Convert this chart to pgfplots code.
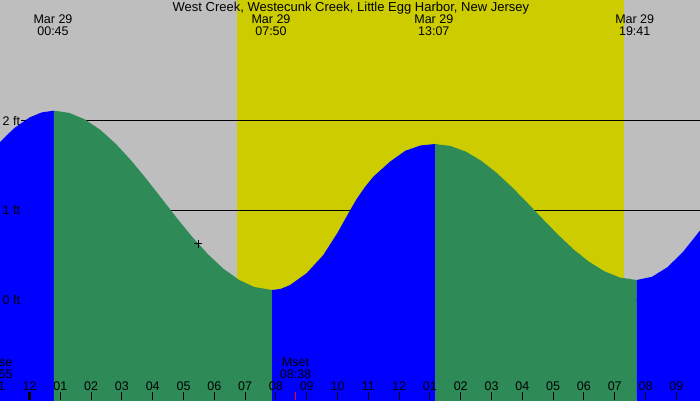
\documentclass[border=0pt]{standalone}
\usepackage{fontspec}
\setmainfont{Liberation Sans}
\usepackage{pgfplots}
\pgfplotsset{compat=1.18}
\definecolor{bggray}{RGB}{190,190,190}
\definecolor{dayyellow}{RGB}{204,204,0}
\definecolor{risecol}{RGB}{0,0,255}
\definecolor{fallcol}{RGB}{46,139,87}
\newcommand\lbl{\fontsize{12.5}{14}\selectfont}
\begin{document}
\begin{tikzpicture}[x=1pt,y=1pt]
\begin{axis}[
  at={(0,0)}, anchor=south west,
  scale only axis, width=700pt, height=400pt,
  xmin=-0.958, xmax=21.769,
  ymin=-1.116, ymax=3.348,
  axis on top,
  axis line style={draw=none},
  axis background/.style={fill=bggray},
  ytick=\empty,
  xtick={1,2,3,4,5,6,7,8,9,10,11,12,13,14,15,16,17,18,19,20,21},
  xticklabels={01,02,03,04,05,06,07,08,09,10,11,12,01,02,03,04,05,06,07,08,09},
  extra x ticks={0},
  extra x tick labels={12},
  extra x tick style={major tick style={black, line width=3pt}},
  xtick pos=lower, tick align=inside,
  major tick length=8pt,
  major tick style={black, line width=1pt},
  xticklabel style={anchor=base, yshift=10pt, inner sep=0pt, font=\lbl, text=black},
  clip=true,
]
% daylight band
\addplot[draw=none, fill=dayyellow] coordinates {(6.737,-1.2) (19.302,-1.2) (19.302,3.4) (6.737,3.4)} -- cycle;
% reference lines
\addplot[black, line width=1pt] coordinates {(-0.276,2) (21.8,2)};
\addplot[black, line width=1pt] coordinates {(-0.276,1) (21.8,1)};
\addplot[black, line width=1pt] coordinates {(-0.276,0) (21.8,0)};
% rising (blue) and falling (green) tide
\addplot[draw=none, fill=risecol] coordinates {
 (-0.958,-1.2) (-0.958,1.763) (-0.5,1.917) (0,2.037) (0.4,2.094) (0.795,2.113) (0.795,-1.2)} -- cycle;
\addplot[draw=none, fill=fallcol] coordinates {
 (0.795,-1.2) (0.795,2.113) (1.295,2.088) (1.795,2.016) (2.295,1.900) (2.795,1.745)
 (3.295,1.559) (3.795,1.351) (4.295,1.131) (4.795,0.910) (5.295,0.699) (5.795,0.510)
 (6.295,0.349) (6.795,0.226) (7.295,0.145) (7.873,0.112) (7.873,-1.2)} -- cycle;
\addplot[draw=none, fill=risecol] coordinates {
 (7.873,-1.2) (7.873,0.112) (8.15,0.123) (8.458,0.167) (9.0,0.300) (9.539,0.502)
 (10.0,0.750) (10.406,1.000) (10.623,1.128) (10.9,1.265) (11.162,1.376) (11.705,1.544)
 (12.2,1.665) (12.7,1.725) (13.166,1.741) (13.166,-1.2)} -- cycle;
\addplot[draw=none, fill=fallcol] coordinates {
 (13.166,-1.2) (13.166,1.741) (13.666,1.719) (14.166,1.656) (14.666,1.554) (15.166,1.419)
 (15.666,1.259) (16.166,1.084) (16.666,0.903) (17.166,0.727) (17.666,0.564)
 (18.166,0.427) (18.666,0.320) (19.166,0.251) (19.71,0.223) (19.71,-1.2)} -- cycle;
\addplot[draw=none, fill=risecol] coordinates {
 (19.71,-1.2) (19.71,0.223) (20.21,0.259) (20.71,0.366) (21.21,0.534) (21.71,0.750)
 (21.769,0.777) (21.8,0.79) (21.8,-1.2)} -- cycle;
% marker
\addplot[only marks, mark=+, mark size=4pt, black, line width=1pt] coordinates {(5.471,0.625)};
\end{axis}
% moonset tick
\draw[red, line width=1pt] (295.4,0) -- (295.4,8);
% partial hour label at the left edge (11 pm)
\node[anchor=base, inner sep=0pt, font=\lbl] at (-1.3,10) {11};
% texts
\node[anchor=base, inner sep=0pt, font=\fontsize{13}{15}\selectfont] at (350.9,388.3) {West Creek, Westecunk Creek, Little Egg Harbor, New Jersey};
\node[anchor=base, inner sep=0pt, font=\lbl] at (53,376) {Mar 29};
\node[anchor=base, inner sep=0pt, font=\lbl] at (53,364) {00:45};
\node[anchor=base, inner sep=0pt, font=\lbl] at (271,376) {Mar 29};
\node[anchor=base, inner sep=0pt, font=\lbl] at (271,364) {07:50};
\node[anchor=base, inner sep=0pt, font=\lbl] at (433.8,376) {Mar 29};
\node[anchor=base, inner sep=0pt, font=\lbl] at (433.8,364) {13:07};
\node[anchor=base, inner sep=0pt, font=\lbl] at (634.7,376) {Mar 29};
\node[anchor=base, inner sep=0pt, font=\lbl] at (634.7,364) {19:41};
\node[anchor=base west, inner sep=0pt, font=\lbl] at (2.5,275) {2 ft};
\node[anchor=base west, inner sep=0pt, font=\lbl] at (2.5,185.4) {1 ft};
\node[anchor=base west, inner sep=0pt, font=\lbl] at (2.5,95.7) {0 ft};
\node[anchor=base, inner sep=0pt, font=\lbl] at (295.5,33.3) {Mset};
\node[anchor=base, inner sep=0pt, font=\lbl] at (295.5,21.7) {08:38};
\node[anchor=base, inner sep=0pt, font=\lbl] at (-3,33.3) {Mrise};
\node[anchor=base, inner sep=0pt, font=\lbl] at (-3,21.7) {22:55};
\pgfresetboundingbox
\useasboundingbox (0,0) rectangle (700,400);
\end{tikzpicture}
\end{document}
